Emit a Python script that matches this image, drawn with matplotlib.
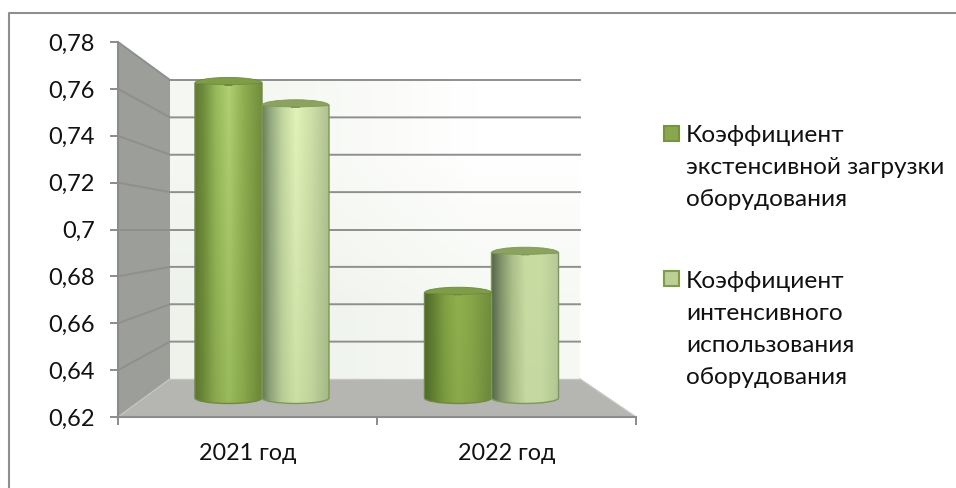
import numpy as np
import matplotlib
matplotlib.use("Agg")
import matplotlib.pyplot as plt
from matplotlib.patches import PathPatch, Polygon, Rectangle
from matplotlib.path import Path

plt.rcParams["font.family"] = ["Lato", "Open Sans", "DejaVu Sans"]

W, H = 956, 488

categories = ["2021 год", "2022 год"]
series_names = [
    "Коэффициент\nэкстенсивной загрузки\nоборудования",
    "Коэффициент\nинтенсивного\nиспользования\nоборудования",
]
extensive = [0.7696, 0.670]
intensive = [0.759, 0.689]
y_ticks = [0.62, 0.64, 0.66, 0.68, 0.70, 0.72, 0.74, 0.76, 0.78]
y_labels = ["0,62", "0,64", "0,66", "0,68", "0,7", "0,72", "0,74", "0,76", "0,78"]

# 3d box in pixels: front plane, and the back plane it shrinks to
FRONT = (118, 636, 42, 417)
BACK = (170, 580, 80, 379)
# mid plane runs 0.62 at y=398 up to 0.78 at y=61, extended down to 0.60 so the round bottoms fit
MID = (147.25, 606.25, 61, 440.125)


def add_axes_px(x0, x1, y0, y1):
    return fig.add_axes([x0 / W, 1 - y1 / H, (x1 - x0) / W, (y1 - y0) / H])


def back_point(x, v):
    # where a front-plane (x, value) lands on the back wall, in front-plane data
    px = BACK[0] + x / 2 * (BACK[1] - BACK[0])
    py = BACK[3] - (v - 0.62) / 0.16 * (BACK[3] - BACK[2])
    return (px - FRONT[0]) / (FRONT[1] - FRONT[0]) * 2, 0.62 + (FRONT[3] - py) / (FRONT[3] - FRONT[2]) * 0.16


def gradient(top, bottom, ny=60):
    # horizontal cylinder shading, top and bottom are colour stops left to right
    stops = [0, 0.12, 0.3, 0.5, 0.72, 1]
    x = np.linspace(0, 1, 200)
    img = np.zeros((ny, 200, 3))
    for j in range(ny):
        t = j / (ny - 1)
        for c in range(3):
            vals = [(1 - t) * matplotlib.colors.to_rgb(a)[c] + t * matplotlib.colors.to_rgb(b)[c]
                    for a, b in zip(top, bottom)]
            img[j, :, c] = np.interp(x, stops, vals)
    return img


def half_arc(x0, x1, y, ry):
    # bezier points of a half ellipse from x0 to x1, bulging by ry
    k = 0.5523
    xc = (x0 + x1) / 2
    hw = (x1 - x0) / 2
    sign = 1 if x1 > x0 else -1
    return [(x0, y + k * ry), (xc - sign * k * hw, y + ry), (xc, y + ry),
            (xc + sign * k * hw, y + ry), (x1, y + k * ry), (x1, y)]


def cylinder(ax, xc, width, value, top, bottom, cap, edge):
    ry = 0.0026
    x0, x1 = xc - width / 2, xc + width / 2
    curve = [Path.CURVE4] * 6
    verts = [(x0, value), (x0, 0.62)] + half_arc(x0, x1, 0.62, -ry) + [(x1, value), (x0, value)]
    codes = [Path.MOVETO, Path.LINETO] + curve + [Path.LINETO, Path.CLOSEPOLY]
    outline = PathPatch(Path(verts, codes), facecolor="none", edgecolor=edge, lw=1.0, zorder=3)
    ax.add_patch(outline)
    im = ax.imshow(gradient(top, bottom), extent=[x0, x1, 0.62 - ry, value], aspect="auto",
                   zorder=2, interpolation="bilinear")
    im.set_clip_path(outline)
    # cap: full arc above, much flatter one below
    cap_verts = [(x0, value)] + half_arc(x0, x1, value, ry) + half_arc(x1, x0, value, -ry * 0.4)
    cap_codes = [Path.MOVETO] + [Path.CURVE4] * 12
    ax.add_patch(PathPatch(Path(cap_verts, cap_codes), facecolor=cap, edgecolor=edge, lw=0.6, zorder=4))


fig = plt.figure(figsize=(W / 100, H / 100), dpi=100)

# picture frame, only top and left show
frame = fig.add_axes([0, 0, 1, 1])
frame.set_xlim(0, W)
frame.set_ylim(H, 0)
frame.axis("off")
frame.plot([9, 9, W], [H, 13, 13], color="#8f8f8f", lw=1.5)

ax = add_axes_px(FRONT[0], FRONT[1], FRONT[2], FRONT[3])
ax.set_xlim(0, 2)
ax.set_ylim(0.62, 0.78)
ax.patch.set_alpha(0)
for s in ("top", "right"):
    ax.spines[s].set_visible(False)
for s in ("left", "bottom"):
    ax.spines[s].set_color("#8c8c8c")
    ax.spines[s].set_linewidth(1.5)

bl = back_point(0, 0.62)
tl = back_point(0, 0.78)
br = back_point(2, 0.62)
tr = back_point(2, 0.78)

# back wall, very light grey fading to white
wall = np.array([[[0.96, 0.97, 0.95], [1, 1, 1]], [[0.935, 0.95, 0.925], [0.965, 0.975, 0.955]]])
ax.imshow(wall, extent=[bl[0], br[0], bl[1], tl[1]], aspect="auto", zorder=0, interpolation="bilinear")
ax.set_xlim(0, 2)
ax.set_ylim(0.62, 0.78)

ax.add_patch(Polygon([(0, 0.62), (0, 0.78), tl, bl], facecolor="#9c9e99", edgecolor="none", zorder=1))
ax.add_patch(Polygon([(0, 0.62), (2, 0.62), br, bl], facecolor="#b5b6b2", edgecolor="none", zorder=1))

for v in y_ticks:
    a = back_point(0, v)
    b = back_point(2, v)
    if v > 0.62:
        ax.plot([0, a[0], b[0]], [v, a[1], b[1]], color="#8f8f8f", lw=1.4, zorder=1.5)
    else:
        ax.plot([0, a[0]], [v, a[1]], color="#c4c5c2", lw=1.0, zorder=1.5)
ax.plot([bl[0], br[0]], [bl[1], br[1]], color="#c4c5c2", lw=1.0, zorder=1.5)
ax.plot([2, br[0]], [0.62, br[1]], color="#c4c5c2", lw=1.0, zorder=1.5)

ax.set_yticks(y_ticks)
ax.set_yticklabels(y_labels, fontsize=17, color="#111111")
ax.set_xticks([0, 1, 2])
ax.set_xticklabels([])
ax.set_xticks([0.5, 1.5], minor=True)
ax.set_xticklabels(categories, minor=True, fontsize=16.8, color="#111111")
ax.tick_params(axis="y", length=5.5, width=1.4, color="#8c8c8c", pad=11)
ax.tick_params(axis="x", which="major", length=6, width=1.4, color="#8c8c8c")
ax.tick_params(axis="x", which="minor", length=0, pad=18.5)

# bars sit halfway into the box depth
mid = add_axes_px(MID[0], MID[1], MID[2], MID[3])
mid.axis("off")
bar_w = 0.292
for i in range(len(categories)):
    xc = i + 0.5
    if i == 0:
        top1 = ["#5f7a34", "#6f8c3c", "#96b75a", "#b0cf72", "#8fae50", "#6f8c3c"]
        bot1 = ["#5a7530", "#6b8838", "#8aa94e", "#9aba5e", "#88a64a", "#688436"]
        top2 = ["#6b8058", "#93a87c", "#c2d6a0", "#e2f3b8", "#cfe0a8", "#aebf90"]
        bot2 = ["#657a54", "#8ea378", "#b8cc98", "#cce0a4", "#c0d49c", "#a3b786"]
    else:
        top1 = ["#4e6828", "#5f7c30", "#7f9f42", "#90b04e", "#86a548", "#6f8c3c"]
        bot1 = ["#4e6828", "#5f7c30", "#7a9a40", "#8aaa4a", "#82a146", "#6a8638"]
        top2 = ["#55684c", "#7e9068", "#abc08a", "#c8dca2", "#c8dca2", "#b4c896"]
        bot2 = ["#55684c", "#7e9068", "#a8bc86", "#c4d8a0", "#c4d8a0", "#b0c492"]
    cylinder(mid, xc - bar_w / 2, bar_w, extensive[i], top1, bot1, "#7f9c48", "#6f8a3e")
    cylinder(mid, xc + bar_w / 2, bar_w, intensive[i], top2, bot2, "#8ba35e", "#7f9858")
mid.set_xlim(0, 2)
mid.set_ylim(0.60, 0.78)

# legend
for (y0, face, edge, name) in [(126, "#8aa64e", "#78933f", series_names[0]),
                               (271, "#bcd096", "#7f9c48", series_names[1])]:
    frame.add_patch(Rectangle((664, y0), 15, 15, facecolor=face, edgecolor=edge, lw=1.5))
    for j, line in enumerate(name.split("\n")):
        frame.text(686, y0 + 10 + 32 * j, line, fontsize=17.6, color="#111111", va="center", ha="left")

fig.savefig("out.png", dpi=100)
